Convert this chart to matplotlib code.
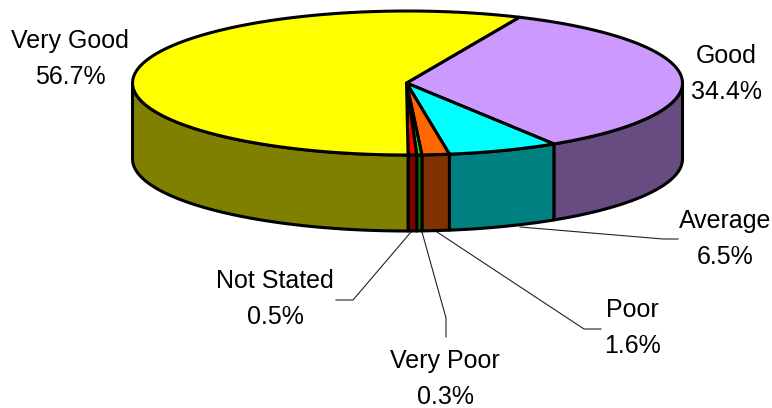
import numpy as np
import matplotlib
matplotlib.use('Agg')
import matplotlib.pyplot as plt
from matplotlib.patches import Polygon

plt.rcParams['font.family'] = ['Liberation Sans', 'DejaVu Sans']

labels = ['Good', 'Average', 'Poor', 'Very Poor', 'Not Stated', 'Very Good']
values = [34.4, 6.5, 1.6, 0.3, 0.5, 56.7]
top_colors = ['#CC99FF', '#00FFFF', '#FF6600', '#00FF00', '#FF0000', '#FFFF00']
side_colors = ['#664C80', '#008080', '#803300', '#008000', '#800000', '#808000']

cx, cy = 407.5, 83
rx, ry = 275, 72
depth = 76
start = 66

fig = plt.figure(figsize=(7.72, 4.08), dpi=100)
ax = fig.add_axes([0, 0, 1, 1])
ax.set_xlim(0, 772)
ax.set_ylim(408, 0)
ax.axis('off')


def rim(a, b, dy=0):
    t = np.radians(np.linspace(a, b, 80))
    return np.column_stack([cx + rx * np.cos(t), cy + dy - ry * np.sin(t)])


angles = start - np.cumsum([0] + values) * 3.6

# side walls, only the front half shows
for i in range(len(values)):
    a2 = min(angles[i], 0)
    b2 = max(angles[i + 1], -180)
    if a2 <= b2:
        continue
    pts = np.vstack([rim(a2, b2), rim(b2, a2, depth)])
    ax.add_patch(Polygon(pts, closed=True, fc=side_colors[i], ec='black', lw=2.2, joinstyle='round'))

# top of the pie
for i in range(len(values)):
    pts = np.vstack([[[cx - 1, cy]], rim(angles[i], angles[i + 1])])
    ax.add_patch(Polygon(pts, closed=True, fc=top_colors[i], ec='black', lw=2.2, joinstyle='miter'))

# leader lines
leaders = [
    ([520, 663, 678], [227, 239, 239]),
    ([437, 584, 601], [232, 329, 329]),
    ([422, 446, 446], [232, 318, 337]),
    ([411, 353, 336], [232, 300, 300]),
]
for xs, ys in leaders:
    ax.plot(xs, ys, color='#222222', lw=0.8)

text_pos = {
    'Very Good': (70, 59),
    'Good': (726, 74),
    'Average': (725, 239),
    'Poor': (632, 328),
    'Very Poor': (445, 379),
    'Not Stated': (275, 299),
}
for name, val in zip(labels, values):
    x, y = text_pos[name]
    ax.text(x, y, f'{name}\n{val}%', ha='center', va='center', fontsize=18,
            linespacing=1.58, color='black')

fig.savefig('out.png', dpi=100)
